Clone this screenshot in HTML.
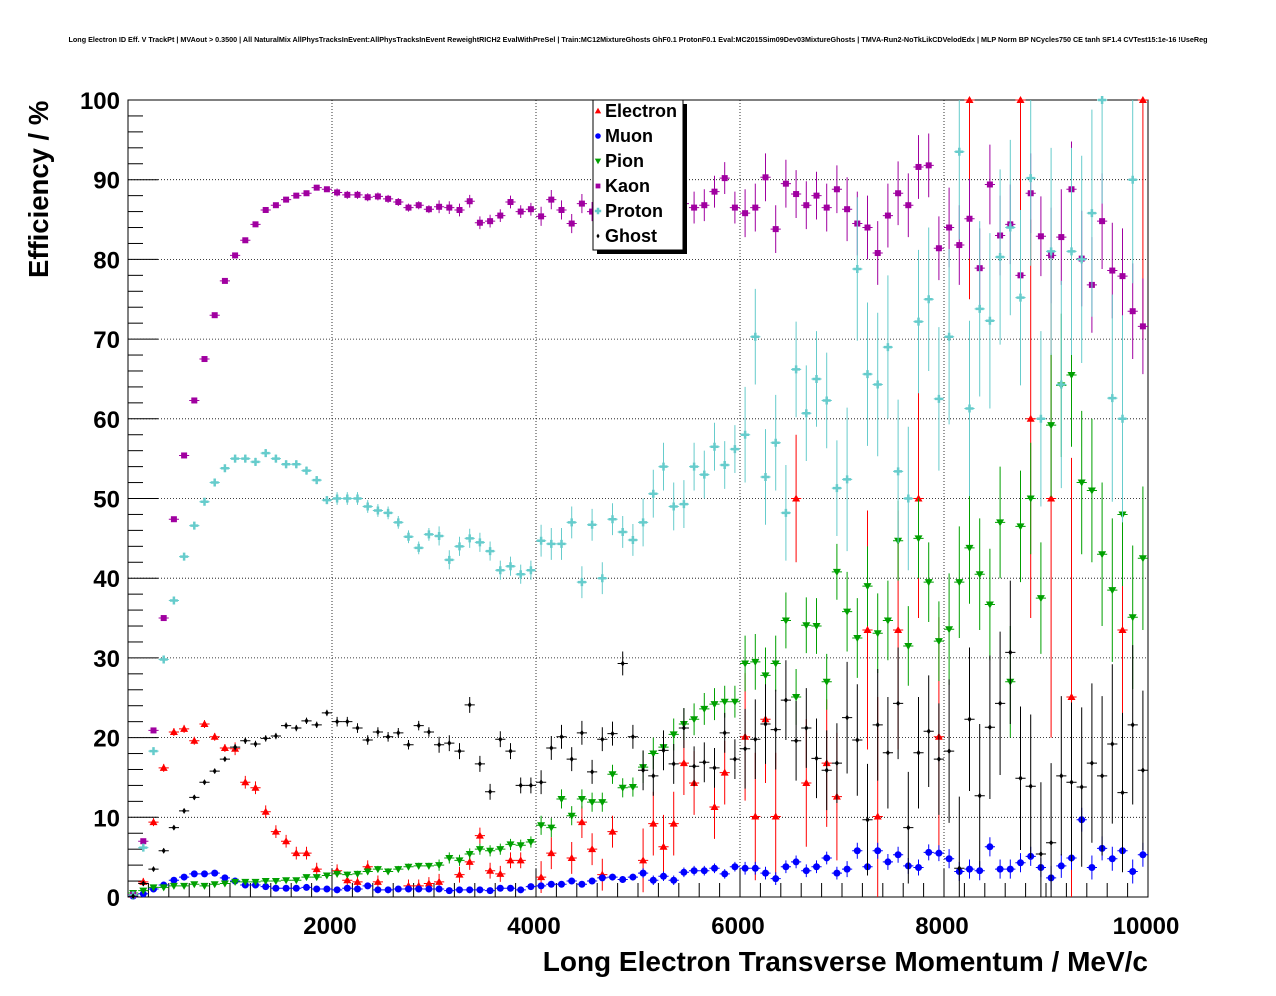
<!DOCTYPE html>
<html><head><meta charset="utf-8"><style>
html,body{margin:0;padding:0;background:#fff;}
svg{display:block;font-family:"Liberation Sans",sans-serif;}
</style></head><body>
<svg id="chart" width="1276" height="996" viewBox="0 0 1276 996" xmlns="http://www.w3.org/2000/svg">
<rect x="0" y="0" width="1276" height="996" fill="#fff"/>
<text x="638" y="42" font-size="7.2" font-weight="bold" text-anchor="middle">Long Electron ID Eff. V TrackPt | MVAout &gt; 0.3500 | All NaturalMix AllPhysTracksInEvent:AllPhysTracksInEvent ReweightRICH2 EvalWithPreSel | Train:MC12MixtureGhosts GhF0.1 ProtonF0.1 Eval:MC2015Sim09Dev03MixtureGhosts | TMVA-Run2-NoTkLikCDVelodEdx | MLP Norm BP NCycles750 CE tanh SF1.4 CVTest15:1e-16 !UseReg</text>
<g id="grid"></g>
<rect x="128" y="100" width="1020" height="797" fill="none" stroke="#000" stroke-width="1"/>
<g id="axes"></g>
<g id="series"></g>
<text x="1148" y="971" font-size="28" font-weight="bold" text-anchor="end">Long Electron Transverse Momentum / MeV/c</text>
<text transform="translate(48,278) rotate(-90)" font-size="27.5" font-weight="bold" text-anchor="start">Efficiency / %</text>
<g id="legend"></g>
</svg>
<script>
const xTicks=[2000,4000,6000,8000,10000];
const yTicks=[0,10,20,30,40,50,60,70,80,90,100];
const seriesNames=["Electron","Muon","Pion","Kaon","Proton","Ghost"];
const electron=[0.3,1.9,9.4,16.2,20.7,21.1,19.6,21.7,20.1,18.7,18.6,14.4,13.7,10.7,8.2,7,5.5,5.5,3.5,null,3.3,2.1,1.9,3.8,1.9,null,null,1.4,1.4,1.7,1.9,null,2.8,4.4,7.7,3.3,2.9,4.6,4.6,null,2.5,5.5,null,4.9,9.4,6,2.8,8.2,null,null,4.6,9.2,6.3,9.2,16.8,14.3,null,11.3,15.6,null,20.1,10.1,22.3,10.1,null,50,14.3,null,16.8,12.6,null,null,33.5,10.1,null,33.5,null,50,null,20.1,null,null,100,null,null,null,null,100,60,null,50,null,25.1,null,null,null,null,33.5,null,100];
const muon=[0.1,0.4,1,1.5,2.1,2.5,2.9,2.9,3,2.4,2,1.5,1.5,1.3,1.1,1.1,1.1,1.2,1,1,0.9,1.1,1,1.4,0.9,0.9,1,1,1,1,1,0.8,0.9,0.9,0.9,0.8,1.1,1.1,0.9,1.3,1.4,1.6,1.6,2,1.6,2,2.4,2.5,2.2,2.5,3,2.1,2.6,2.1,3.1,3.3,3.3,3.6,2.9,3.8,3.6,3.6,3,2.3,3.8,4.4,3.3,3.8,4.9,3,3.5,5.8,3.8,5.8,4.4,5.3,3.9,3.7,5.6,5.5,4.8,3.2,3.5,3.3,6.3,3.5,3.5,4.3,5.1,3.7,2.4,3.9,4.9,9.7,3.7,6.1,4.8,5.8,3.2,5.3];
const pion=[0.5,0.8,1.2,1.2,1.4,1.4,1.6,1.4,1.6,1.7,1.9,1.9,1.9,2,2,2.1,2.1,2.5,2.5,2.7,2.9,2.8,2.9,3.2,3.5,3.2,3.5,3.8,3.9,3.9,4,4.9,4.6,5.4,6,5.8,6,6.6,6.5,6.9,9,8.7,12.3,10.2,12.3,11.9,11.9,15.4,13.7,13.8,16.3,18,18.8,20.4,21.7,22.3,23.6,24.2,24.5,24.5,29.3,29.5,27.8,29.3,34.7,25.1,34.1,34,27,40.8,35.8,32.5,39,33.1,34.7,44.7,31.5,45,39.5,32.1,33.6,39.5,43.8,40.5,36.7,47,27,46.5,50,37.5,59.2,64.2,65.5,52,51,43,38.5,48,35.1,42.5];
const kaon=[0.3,7,20.9,35,47.4,55.4,62.3,67.5,73,77.3,80.5,82.4,84.4,86.2,86.8,87.5,88,88.3,89,88.8,88.4,88.1,88.1,87.8,87.9,87.6,87.2,86.5,86.8,86.3,86.6,86.5,86.2,87.3,84.6,84.8,85.5,87.2,86,86.3,85.4,87.5,86.2,84.5,87,86,84.3,85.5,85,83.5,86.3,88,88.5,86.6,87,86.5,86.8,88.5,90.2,86.5,85.8,86.5,90.3,83.8,89.5,88.2,86.8,88,86.5,88.8,86.3,84.5,84,80.8,85.5,88.3,86.8,91.6,91.8,81.4,84,81.8,85.1,78.9,89.4,83,84.4,78,88.3,82.9,80.5,82.8,88.8,80.1,76.8,84.8,78.6,77.9,73.5,71.6];
const proton=[0.2,6.2,18.3,29.8,37.2,42.7,46.6,49.6,52,53.8,55,55,54.6,55.7,55,54.3,54.3,53.5,52.3,49.8,50,50,50,49,48.5,48.2,47,45.2,43.8,45.5,45.3,42.3,44,45,44.5,43.4,41,41.5,40.5,41,44.7,44.3,44.3,47,39.5,46.7,40,47.4,45.8,44.8,47,50.6,54,49,49.3,54,53,56.5,54.2,56.2,58,70.3,52.7,57,48.2,66.2,60.7,65,62.3,51.3,52.4,78.8,65.6,64.3,69,53.4,50,72.2,75,62.5,70.3,93.5,61.3,73.8,72.3,80.3,84,75.2,90.2,60,81,64.3,81,80,85.8,100,62.6,60,90];
const ghost=[0.1,1.7,3.5,5.8,8.7,10.8,12.5,14.4,15.8,17.3,18.8,19.6,19.2,19.9,20.2,21.5,21.2,22.1,21.6,23.1,22,22,21.2,19.7,20.7,20.1,20.6,19.1,21.5,20.7,19.1,19.3,18.3,24.1,16.7,13.2,19.8,18.3,14,14,14.4,18.7,20.1,17.3,20.6,15.7,19.8,20.5,29.3,20.1,15.9,15.2,18.4,16.7,21.2,16.4,16.9,16.2,20.6,17.3,18.6,19.8,21.7,21,24.7,19.6,21.2,17.4,15.9,16.8,22.5,19.7,9.7,21.6,18.1,24.3,8.7,18.1,20.8,17.3,18.3,3.6,22.3,12.7,21.3,24.3,30.7,14.9,13.9,5.4,6.8,15.2,14.4,13.8,16.8,15.2,19.2,13.1,21.6,15.9];
// typical vertical error (percent) per 1000 MeV block
const errElectron=[0.5,0.8,0.8,1,2,4,8,15,25,30];
const errMuon=[0.1,0.2,0.2,0.3,0.4,0.6,0.8,1,1.2,1.5];
const errPion=[0.2,0.3,0.4,0.7,1.2,2,3.5,5,7,9];
const errKaon=[0.3,0.3,0.5,0.8,1.2,2,3,4,5,6];
const errProton=[0.4,0.5,0.8,1.2,2,3,6,9,11,13];
const errGhost=[0.3,0.4,0.6,1,1.5,2.5,5,7,9,10];

const NS="http://www.w3.org/2000/svg";
const L=128,R=1148,T=100,B=897,FL=128,FR=1148;
const xs=v=>L+(v/10000)*(R-L);
const ys=v=>B-(v/100)*(B-T);
function mk(tag,attrs,parent){const e=document.createElementNS(NS,tag);for(const k in attrs)e.setAttribute(k,attrs[k]);parent.appendChild(e);return e;}
const grid=document.getElementById('grid'),axes=document.getElementById('axes'),ser=document.getElementById('series'),leg=document.getElementById('legend');
xTicks.forEach(t=>{const x=xs(t);
 const g=mk('line',{x1:x,x2:x,y1:T,y2:B,stroke:'#000','stroke-width':0.8,'stroke-dasharray':'1,2'},grid);
 
 const l=mk('text',{x:x-2,y:934,'font-size':24,'font-weight':'bold','text-anchor':'middle'},axes);l.textContent=t;
 });
for(let v=0;v<=10000;v+=200){const x=xs(v);if(x<FL||x>FR)continue;const len=(v%2000===0)?28:14;
 const tk=mk('line',{x1:x,x2:x,y1:B,y2:B-len,stroke:'#000','stroke-width':1},axes);
 }
yTicks.forEach(t=>{const y=ys(t);
 const g=mk('line',{x1:FL,x2:FR,y1:y,y2:y,stroke:'#000','stroke-width':0.8,'stroke-dasharray':'1,2'},grid);
 
 const l=mk('text',{x:120,y:y+9,'font-size':24,'font-weight':'bold','text-anchor':'end'},axes);l.textContent=t;
 });
for(let v=0;v<=100;v+=2){const y=ys(v);const len=(v%10===0)?30:15;
 const tk=mk('line',{x1:FL,x2:FL+len,y1:y,y2:y,stroke:'#000','stroke-width':1},axes);
 }

const defs=[
 {name:'electron',data:electron,err:errElectron,color:'#ff0000',shape:'tri'},
 {name:'muon',data:muon,err:errMuon,color:'#0000ff',shape:'circ'},
 {name:'pion',data:pion,err:errPion,color:'#00a000',shape:'tridown'},
 {name:'kaon',data:kaon,err:errKaon,color:'#a000a0',shape:'sq'},
 {name:'proton',data:proton,err:errProton,color:'#66cccc',shape:'cross'},
 {name:'ghost',data:ghost,err:errGhost,color:'#000000',shape:'diamond'}];
function marker(shape,x,y,c,p,s){s=s||1;let e;
 if(shape==='tri')e=mk('polygon',{points:`${x},${y-4*s} ${x-4*s},${y+3*s} ${x+4*s},${y+3*s}`,fill:c},p);
 else if(shape==='tridown')e=mk('polygon',{points:`${x},${y+4*s} ${x-4*s},${y-3*s} ${x+4*s},${y-3*s}`,fill:c},p);
 else if(shape==='circ')e=mk('circle',{cx:x,cy:y,r:3.5*s,fill:c},p);
 else if(shape==='sq')e=mk('rect',{x:x-3*s,y:y-3*s,width:6*s,height:6*s,fill:c},p);
 else if(shape==='cross')e=mk('path',{d:`M${x-4*s},${y}H${x+4*s}M${x},${y-4*s}V${y+4*s}`,stroke:c,'stroke-width':2.5},p);
 else e=mk('polygon',{points:`${x},${y-3*s} ${x+2*s},${y} ${x},${y+3*s} ${x-2*s},${y}`,fill:c},p);
 return e;}
defs.forEach(d=>{const g=mk('g',{},ser);
 
 d.data.forEach((v,i)=>{if(v===null||v===undefined)return;
  const cx=xs(i*100+50),cy=ys(v),e=d.err[Math.min(9,Math.floor(i/10))];
  const y1=Math.max(T,ys(Math.min(100,v+e))),y2=Math.min(B,ys(Math.max(0,v-e)));
  const eb=mk('path',{d:`M${cx},${y1}V${y2}M${xs(i*100)},${cy}H${xs(i*100+100)}`,stroke:d.color,'stroke-width':1},g);
  
  const m=marker(d.shape,cx,cy,d.color,g);
  });});

// legend
const sh=mk('rect',{x:597,y:104,width:90,height:150,fill:'#000'},leg);

const bx=mk('rect',{x:593,y:100,width:90,height:150,fill:'#fff',stroke:'#000','stroke-width':1},leg);

defs.forEach((d,i)=>{const y=111+i*25;
 const m=marker(d.shape,598,y,d.color,leg,0.8);
 
 const t=mk('text',{x:605,y:y+6,'font-size':18,'font-weight':'bold'},leg);t.textContent=seriesNames[i];
 });
</script>
</body></html>
